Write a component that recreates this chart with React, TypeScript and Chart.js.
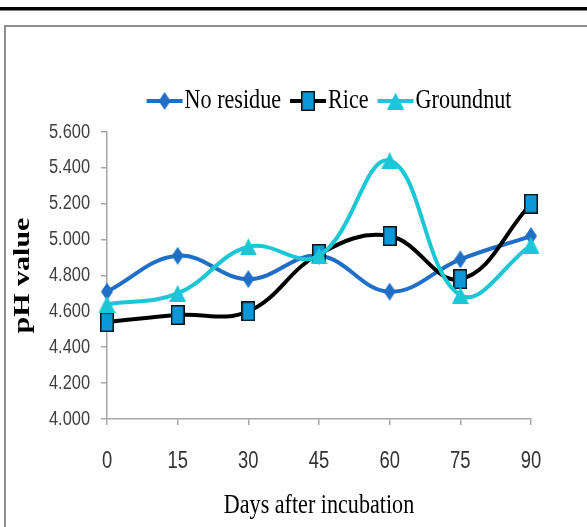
import React, { useEffect, useRef } from "react";
import { Chart, registerables } from "chart.js";

Chart.register(...registerables);

// Days after incubation
const days = ["0", "15", "30", "45", "60", "75", "90"];

// Soil pH by residue treatment
const noResidue = [4.71, 4.91, 4.78, 4.91, 4.71, 4.89, 5.02];
const rice = [4.54, 4.58, 4.6, 4.92, 5.02, 4.78, 5.2];
const groundnut = [4.64, 4.7, 4.96, 4.91, 5.44, 4.69, 4.97];

const seriesNames = ["No residue", "Rice", "Groundnut"];

const yMin = 4.0;
const yMax = 5.6;
const yStep = 0.2;

const BLUE = "#1F6FC6";
const CYAN = "#1BC7D4";
const RICE_FILL = "#0A98D8";
const SERIF = "'Liberation Serif', 'Times New Roman', serif";
const SANS = "'Liberation Sans', Arial, sans-serif";
const SQUEEZE = 0.79;
const TICK_SQUEEZE = 0.8;

function makeMarker(kind: "diamond" | "square" | "triangle"): HTMLCanvasElement {
  const c = document.createElement("canvas");
  let w = 12, h = 18;
  if (kind === "square") { w = 14; h = 20; }
  if (kind === "triangle") { w = 17; h = 17; }
  c.width = w;
  c.height = h;
  const g = c.getContext("2d")!;
  g.beginPath();
  if (kind === "diamond") {
    g.moveTo(w / 2, 0);
    g.lineTo(w, h / 2);
    g.lineTo(w / 2, h);
    g.lineTo(0, h / 2);
    g.closePath();
    g.fillStyle = BLUE;
    g.fill();
  } else if (kind === "square") {
    g.rect(0.75, 0.75, w - 1.5, h - 1.5);
    g.fillStyle = RICE_FILL;
    g.fill();
    g.lineWidth = 1.5;
    g.strokeStyle = "#111";
    g.stroke();
  } else {
    g.moveTo(w / 2, 0);
    g.lineTo(w, h);
    g.lineTo(0, h);
    g.closePath();
    g.fillStyle = CYAN;
    g.fill();
  }
  return c;
}

function squeezedText(
  ctx: CanvasRenderingContext2D,
  text: string,
  x: number,
  y: number,
  font: string,
  align: CanvasTextAlign,
  sx: number = SQUEEZE,
  color: string = "#000"
) {
  ctx.save();
  ctx.font = font;
  ctx.textAlign = align;
  ctx.textBaseline = "middle";
  ctx.fillStyle = color;
  ctx.translate(x, y);
  ctx.scale(sx, 1);
  ctx.fillText(text, 0, 0);
  ctx.restore();
}

export default function App() {
  const canvasRef = useRef<HTMLCanvasElement | null>(null);

  useEffect(() => {
    const canvas = canvasRef.current;
    if (!canvas) return;

    const markers = [makeMarker("diamond"), makeMarker("square"), makeMarker("triangle")];
    const lineColors = [BLUE, "#000000", CYAN];

    const decorations = {
      id: "decorations",
      beforeDraw(chart: any) {
        const ctx = chart.ctx as CanvasRenderingContext2D;
        ctx.save();
        ctx.fillStyle = "#fff";
        ctx.fillRect(0, 0, chart.width, chart.height);
        // page rule above the figure
        ctx.fillStyle = "#000";
        ctx.fillRect(0, 7, chart.width, 3.5);
        // figure frame
        ctx.strokeStyle = "#8E8E8E";
        ctx.lineWidth = 2;
        ctx.beginPath();
        ctx.moveTo(5, chart.height + 2);
        ctx.lineTo(5, 26);
        ctx.lineTo(chart.width + 2, 26);
        ctx.stroke();
        ctx.restore();
      },
      afterDraw(chart: any) {
        const ctx = chart.ctx as CanvasRenderingContext2D;
        const area = chart.chartArea;
        const xScale = chart.scales.x;
        const yScale = chart.scales.y;

        // tick labels in a condensed face
        xScale.ticks.forEach((t: any, i: number) => {
          const label = xScale.getLabelForValue(t.value);
          squeezedText(ctx, label, xScale.getPixelForTick(i), 462, `23px ${SANS}`, "center", TICK_SQUEEZE, "#333");
        });
        yScale.ticks.forEach((t: any, i: number) => {
          squeezedText(ctx, Number(t.value).toFixed(3), 90, yScale.getPixelForTick(i), `20px ${SANS}`, "right", 0.82, "#404040");
        });

        // legend: line sample with marker, then the series name
        const legendFont = `28px ${SERIF}`;
        ctx.save();
        ctx.font = legendFont;
        const sampleW = 36;
        const textGap = 2;
        const itemGap = 9;
        const widths = seriesNames.map((n) => ctx.measureText(n).width * SQUEEZE);
        ctx.restore();
        const total =
          widths.reduce((a, b) => a + b, 0) +
          seriesNames.length * (sampleW + textGap) +
          itemGap * (seriesNames.length - 1);
        let x = 329 - total / 2;
        const ly = 101;
        seriesNames.forEach((name, i) => {
          ctx.save();
          ctx.strokeStyle = lineColors[i];
          ctx.lineWidth = 4;
          ctx.beginPath();
          ctx.moveTo(x, ly);
          ctx.lineTo(x + sampleW, ly);
          ctx.stroke();
          const m = markers[i];
          ctx.drawImage(m, x + sampleW / 2 - m.width / 2, ly - m.height / 2);
          ctx.restore();
          squeezedText(ctx, name, x + sampleW + textGap, ly, legendFont, "left");
          x += sampleW + textGap + widths[i] + itemGap;
        });

        // x axis title
        squeezedText(ctx, "Days after incubation", (area.left + area.right) / 2, 506, `28px ${SERIF}`, "center");

        // y axis title, rotated
        ctx.save();
        ctx.font = `bold 30px ${SERIF}`;
        ctx.textAlign = "center";
        ctx.textBaseline = "middle";
        ctx.fillStyle = "#000";
        ctx.translate(23, (area.top + area.bottom) / 2);
        ctx.rotate(-Math.PI / 2);
        ctx.scale(1, SQUEEZE);
        ctx.fillText("pH value", 0, 0);
        ctx.restore();
      },
    };

    const chart = new Chart(canvas, {
      type: "line",
      data: {
        labels: days,
        datasets: [
          {
            label: seriesNames[0],
            data: noResidue,
            borderColor: BLUE,
            borderWidth: 4,
            pointStyle: markers[0],
            tension: 0.4,
            order: 2,
          },
          {
            label: seriesNames[1],
            data: rice,
            borderColor: "#000000",
            borderWidth: 4,
            pointStyle: markers[1],
            tension: 0.4,
            order: 1,
          },
          {
            label: seriesNames[2],
            data: groundnut,
            borderColor: CYAN,
            borderWidth: 4,
            pointStyle: markers[2],
            tension: 0.4,
            order: 0,
          },
        ],
      },
      options: {
        responsive: false,
        animation: false,
        devicePixelRatio: 1,
        layout: { padding: { top: 132, right: 56, left: 0, bottom: 0 } },
        plugins: {
          legend: { display: false },
          tooltip: { enabled: false },
        },
        events: [],
        scales: {
          x: {
            type: "category",
            offset: false,
            afterFit(scale: any) {
              scale.height = 108;
            },
            border: { color: "#A6A6A6", width: 1.5 },
            grid: { drawOnChartArea: false, color: "#A6A6A6", tickLength: 6, lineWidth: 1.5 },
            ticks: { display: false, maxRotation: 0 },
          },
          y: {
            min: yMin,
            max: yMax,
            afterFit(scale: any) {
              scale.width = 107;
            },
            border: { color: "#A6A6A6", width: 1.5 },
            grid: { drawOnChartArea: false, color: "#A6A6A6", tickLength: 6, lineWidth: 1.5 },
            ticks: { display: false, stepSize: yStep },
          },
        },
      },
      plugins: [decorations],
    });

    return () => chart.destroy();
  }, []);

  return (
    <div style={{ position: "absolute", left: 0, top: 0, width: 587, height: 527 }}>
      <canvas ref={canvasRef} width={587} height={527} style={{ display: "block", width: 587, height: 527 }} />
    </div>
  );
}
